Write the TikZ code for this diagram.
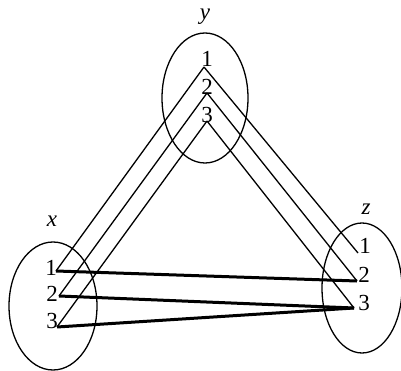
\documentclass[tikz,border=0pt]{standalone}
\usepackage{fontspec}
\setmainfont{Liberation Serif}
\begin{document}
\begin{tikzpicture}[x=1pt,y=-1pt,
    setline/.style={line width=1.3pt},
    mapline/.style={line width=1.3pt},
    boldmap/.style={line width=3pt},
    num/.style={inner sep=0pt,font=\fontsize{23}{27}\selectfont}]
\useasboundingbox (0,0) rectangle (401,371);
% the three sets
\draw[setline] (205,98) ellipse [x radius=43,y radius=65];
\draw[setline] (53,306) ellipse [x radius=44,y radius=64];
\draw[setline] (362,288) ellipse [x radius=40,y radius=65];
\node[num] (ly) at (205,17) {\itshape y};
\node[num] (lx) at (52,221) {\itshape x};
\node[num] (lz) at (366,209) {\itshape z};
% elements
\node[num] (ny1) at (207,59) {1};
\node[num] (ny2) at (207,87) {2};
\node[num] (ny3) at (207,115) {3};
\node[num] (nx1) at (51,268) {1};
\node[num] (nx2) at (52,294) {2};
\node[num] (nx3) at (52,321) {3};
\node[num] (nz1) at (365,246) {1};
\node[num] (nz2) at (364,275) {2};
\node[num] (nz3) at (364,303) {3};
\coordinate (x1) at (56,271);
\coordinate (x2) at (59,296);
\coordinate (x3) at (57,327);
\coordinate (y1) at (204,67);
\coordinate (y2) at (207,93);
\coordinate (y3) at (207,121);
\coordinate (z1) at (358,253);
\coordinate (z2) at (357,281);
\coordinate (z3) at (354,308);
% x to y, y to z
\draw[mapline](x1)--(y1);
\draw[mapline](x2)--(y2);
\draw[mapline](x3)--(y3);
\draw[mapline](y1)--(z1);
\draw[mapline](y2)--(z2);
\draw[mapline](y3)--(z3);
% x to z
\draw[boldmap](x1)--(z2);
\draw[boldmap](x2)--(z3);
\draw[boldmap](x3)--(z3);
\end{tikzpicture}
\end{document}
